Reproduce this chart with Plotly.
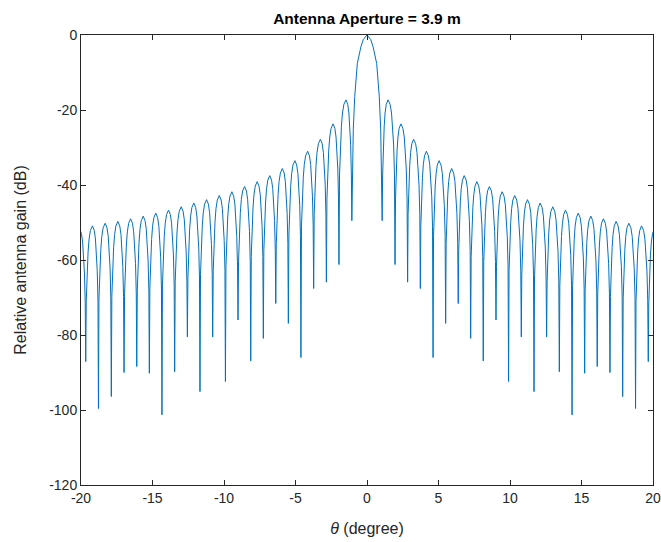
import plotly.graph_objects as go

# ---- values ----
# null positions (deg) and depths (dB), from left to right
null_theta = [-19.67, -18.78, -17.88, -16.99, -16.10, -15.22, -14.34, -13.45, -12.56, -11.68, -10.79,
              -9.90, -9.02, -8.13, -7.25, -6.38, -5.50, -4.62, -3.73, -2.84, -1.96, -1.06,
              1.06, 1.96, 2.84, 3.73, 4.62, 5.50, 6.38, 7.25, 8.13, 9.02, 9.90,
              10.79, 11.68, 12.56, 13.45, 14.34, 15.22, 16.10, 16.99, 17.88, 18.78, 19.67]
null_db = [-87.1, -99.6, -96.4, -90.0, -88.4, -90.2, -101.3, -89.8, -80.5, -95.1, -80.5,
           -92.4, -76.0, -86.9, -80.9, -71.6, -76.9, -86.0, -67.6, -65.9, -61.2, -49.5,
           -49.5, -61.2, -65.9, -67.6, -86.0, -76.9, -71.6, -80.9, -86.9, -76.0, -92.4,
           -80.5, -95.1, -80.5, -89.8, -101.3, -90.2, -88.4, -90.0, -96.4, -99.6, -87.1]
# lobe peaks (deg, dB), from left to right (outermost ones partly outside the axes)
peak_theta = [-20.10, -19.20, -18.31, -17.42, -16.53, -15.65, -14.77, -13.88, -12.99, -12.11, -11.22,
              -10.33, -9.45, -8.56, -7.68, -6.80, -5.92, -5.04, -4.15, -3.26, -2.37, -1.47,
              0.0,
              1.47, 2.37, 3.26, 4.15, 5.04, 5.92, 6.80, 7.68, 8.56, 9.45, 10.33,
              11.22, 12.11, 12.99, 13.88, 14.77, 15.65, 16.53, 17.42, 18.31, 19.20, 20.10]
peak_db = [-51.7, -50.9, -50.2, -49.7, -49.0, -48.3, -47.5, -46.7, -45.8, -44.8, -43.9,
           -42.8, -41.8, -40.4, -39.1, -37.5, -35.6, -33.5, -31.0, -27.8, -23.7, -17.3,
           0.0,
           -17.3, -23.7, -27.8, -31.0, -33.5, -35.6, -37.5, -39.1, -40.4, -41.8, -42.8,
           -43.9, -44.8, -45.8, -46.7, -47.5, -48.3, -49.0, -49.7, -50.2, -50.9, -51.7]
# lobe shape: fraction of the peak-to-null distance, dB below the peak
side_frac = [0.3, 0.5, 0.65, 0.8, 0.92]
side_drop = [-1.2, -3.5, -7.0, -12.0, -20.0]
main_frac = [0.245, 0.40, 0.64, 0.81, 0.906]
main_drop = [-1.2, -3.1, -7.6, -16.4, -25.3]

x_ticks = [-20, -15, -10, -5, 0, 5, 10, 15, 20]
x_tick_text = ["-20", "-15", "-10", "-5", "0", "5", "10", "15", "20"]
y_ticks = [-120, -100, -80, -60, -40, -20, 0]
y_tick_text = ["-120", "-100", "-80", "-60", "-40", "-20", "0"]

# ---- assemble the polyline: each lobe = left null -> shoulders -> peak -> shoulders -> right null
theta, gain = [], []
for i, (pt, pv) in enumerate(zip(peak_theta, peak_db)):
    left = null_theta[i - 1] if i > 0 else None
    right = null_theta[i] if i < len(null_theta) else None
    frac, drop = (main_frac, main_drop) if pv == 0.0 else (side_frac, side_drop)
    if left is not None:
        if not theta:
            theta.append(left); gain.append(null_db[i - 1])
        for f, d in zip(reversed(frac), reversed(drop)):
            theta.append(pt - f * (pt - left)); gain.append(pv + d)
    theta.append(pt); gain.append(pv)
    if right is not None:
        for f, d in zip(frac, drop):
            theta.append(pt + f * (right - pt)); gain.append(pv + d)
        theta.append(right); gain.append(null_db[i])

fig = go.Figure()
fig.add_trace(go.Scatter(x=theta, y=gain, mode="lines",
                         line=dict(color="#0072BD", width=1), hoverinfo="skip"))

axis_common = dict(showgrid=False, zeroline=False, showline=True, linecolor="#262626",
                   linewidth=1, mirror="ticks", ticks="inside", ticklen=5, tickcolor="#262626",
                   automargin=False,
                   tickfont=dict(family="Liberation Sans, Arial, sans-serif", size=14, color="#262626"))

fig.update_layout(
    width=661, height=542,
    margin=dict(l=81, r=8, t=35, b=57),
    paper_bgcolor="white", plot_bgcolor="white",
    showlegend=False,
    title=dict(text="<b>Antenna Aperture = 3.9 m</b>", x=0.5, xref="paper", xanchor="center",
               y=0.965, yref="container", yanchor="middle",
               font=dict(family="Liberation Sans, Arial, sans-serif", size=15.5, color="#000000")),
    xaxis=dict(range=[-20, 20], tickvals=x_ticks, ticktext=x_tick_text,
               title=dict(text="<i>θ</i> (degree)", standoff=18,
                          font=dict(family="Liberation Sans, Arial, sans-serif", size=16, color="#262626")),
               **axis_common),
    yaxis=dict(range=[-120, 0], tickvals=y_ticks, ticktext=y_tick_text,
               title=dict(text="Relative antenna gain (dB)", standoff=18,
                          font=dict(family="Liberation Sans, Arial, sans-serif", size=16, color="#262626")),
               **axis_common),
)

fig.write_html("out.html")
